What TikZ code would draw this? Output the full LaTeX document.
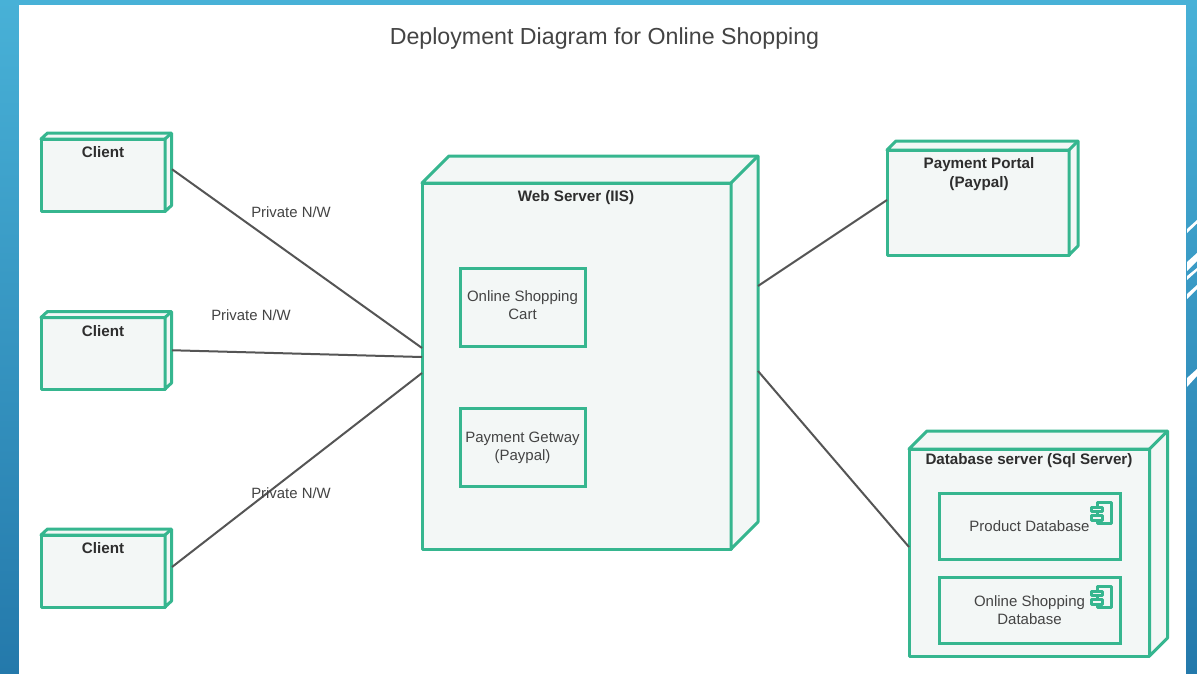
\documentclass[tikz,border=0pt]{standalone}
\usepackage{fontspec}
\setmainfont{Liberation Sans}
\usetikzlibrary{calc}
\definecolor{edgegreen}{HTML}{36B68F}
\definecolor{boxfill}{HTML}{F3F7F6}
\definecolor{inkgrey}{HTML}{444444}
\definecolor{linegrey}{HTML}{555555}
\definecolor{bgtop}{HTML}{48B1D7}
\definecolor{bgbot}{HTML}{2479AB}
\tikzset{
  x=1pt,y=-1pt,
  front/.style={draw=edgegreen,fill=boxfill,line width=3pt,line join=round,inner sep=0pt,outer sep=0pt},
  face/.style={draw=edgegreen,fill=boxfill,line width=3pt,line join=round},
  comp/.style={draw=edgegreen,fill=boxfill,line width=3pt,inner sep=0pt,outer sep=0pt,text=inkgrey,align=center,font=\fontsize{15}{18}\selectfont},
  title/.style={text=black!82,font=\fontsize{15.2}{19}\selectfont\bfseries,align=center,inner sep=0pt},
  lbl/.style={text=inkgrey,font=\fontsize{14.9}{18}\selectfont,inner sep=0pt},
  conn/.style={draw=linegrey,line width=2pt},
  stripe/.style={fill=white,draw=none},
  icon/.style={draw=edgegreen,fill=boxfill,line width=3pt,line join=round},
}
% name, x1, y1, x2, y2, dx, dy
\newcommand{\depbox}[7]{%
  \pgfmathsetmacro{\bcx}{(#2+#4)/2}\pgfmathsetmacro{\bcy}{(#3+#5)/2}%
  \pgfmathsetmacro{\bwd}{#4-#2}\pgfmathsetmacro{\bht}{#5-#3}%
  \node[front,minimum width=\bwd pt,minimum height=\bht pt] (#1) at (\bcx,\bcy) {};
  \draw[face] (#1.north west) -- ++(#6,-#7) -- ++(\bwd,0) -- ++(0,\bht) -- (#1.south east) -- (#1.north east) -- cycle;
  \draw[face,fill=none] (#1.north east) -- ++(#6,-#7);
}
% name, x1, y1, x2, y2, text
\newcommand{\compbox}[6]{%
  \pgfmathsetmacro{\bcx}{(#2+#4)/2}\pgfmathsetmacro{\bcy}{(#3+#5)/2}%
  \pgfmathsetmacro{\bwd}{#4-#2}\pgfmathsetmacro{\bht}{#5-#3}%
  \node[comp,minimum width=\bwd pt,minimum height=\bht pt] (#1) at (\bcx,\bcy) {#6};
}
% top right corner of the component box it sits in
\newcommand{\compicon}[1]{%
  \draw[icon] ([shift={(-23,9.5)}]#1.north east) rectangle ([shift={(-8.5,30)}]#1.north east);
  \draw[icon] ([shift={(-28.5,14)}]#1.north east) rectangle ([shift={(-18,18.5)}]#1.north east);
  \draw[icon] ([shift={(-28.5,22.5)}]#1.north east) rectangle ([shift={(-18,27)}]#1.north east);
}
\begin{document}
\begin{tikzpicture}
\useasboundingbox (0,0) rectangle (1197,673);
% slide background
\shade[top color=bgtop,bottom color=bgbot] (0,0) rectangle (1197,673);
\fill[white] (19,5) rectangle (1186,676);
\fill[stripe] (1187,229) -- (1197,220) -- (1197,223.5) -- (1187,233) -- cycle;
\fill[stripe] (1187,262) -- (1197,253) -- (1197,261) -- (1187,271) -- cycle;
\fill[stripe] (1187,276) -- (1197,268) -- (1197,271) -- (1187,280) -- cycle;
\fill[stripe] (1187,294) -- (1197,285) -- (1197,289) -- (1187,299) -- cycle;
\fill[stripe] (1187,378) -- (1197,369) -- (1197,376) -- (1187,387) -- cycle;
% title
\node[text=inkgrey,font=\fontsize{23.2}{28}\selectfont,inner sep=0pt] (heading) at (604.5,38) {Deployment Diagram for Online Shopping};
% nodes
\depbox{clientA}{41}{139}{165}{211.5}{6.5}{6}
\depbox{clientB}{41}{317.5}{165}{389}{6.5}{6}
\depbox{clientC}{41}{535}{165}{607}{6.5}{6}
\depbox{web}{422}{183}{731}{549}{27}{27}
\depbox{portal}{887}{150}{1069}{255}{9}{9}
\depbox{dbsrv}{909}{449}{1149.5}{656}{18}{18}
% connectors
\draw[conn] ([shift={(7,-6)}]clientA.east) -- ([shift={(0,-18)}]web.west);
\draw[conn] ([shift={(7,-3)}]clientB.east) -- ([shift={(0,-9)}]web.west);
\draw[conn] ([shift={(7,-4)}]clientC.east) -- ([shift={(0,7)}]web.west);
\draw[conn] ([shift={(27,-80)}]web.east) -- ([shift={(0,-2.5)}]portal.west);
\draw[conn] ([shift={(27,5)}]web.east) -- ([shift={(0,-5.5)}]dbsrv.west);
% titles
\node[title] (clientAt) at (103,152.5) {Client};
\node[title] (clientBt) at (103,331.5) {Client};
\node[title] (clientCt) at (103,548.5) {Client};
\node[title] (webt) at (576,197.5) {Web Server (IIS)};
\node[title] (portalt) at (979,174.5) {Payment Portal\\(Paypal)};
\node[title] (dbsrvt) at (1029,461) {Database server (Sql Server)};
% components
\compbox{cart}{460}{268}{585}{346}{Online Shopping\\\rule[-4.5pt]{0pt}{6pt}Cart}
\compbox{gate}{460}{408}{585}{486}{\rule{0pt}{12.5pt}Payment Getway\\(Paypal)}
\compbox{prod}{939}{493}{1120}{559.5}{Product Database}
\compbox{shop}{939}{577}{1120}{643}{Online Shopping\\Database}
\compicon{prod}
\compicon{shop}
% connector labels
\node[lbl] (nwA) at (291,212) {Private N/W};
\node[lbl] (nwB) at (251,315) {Private N/W};
\node[lbl] (nwC) at (291,493) {Private N/W};
\end{tikzpicture}
\end{document}
